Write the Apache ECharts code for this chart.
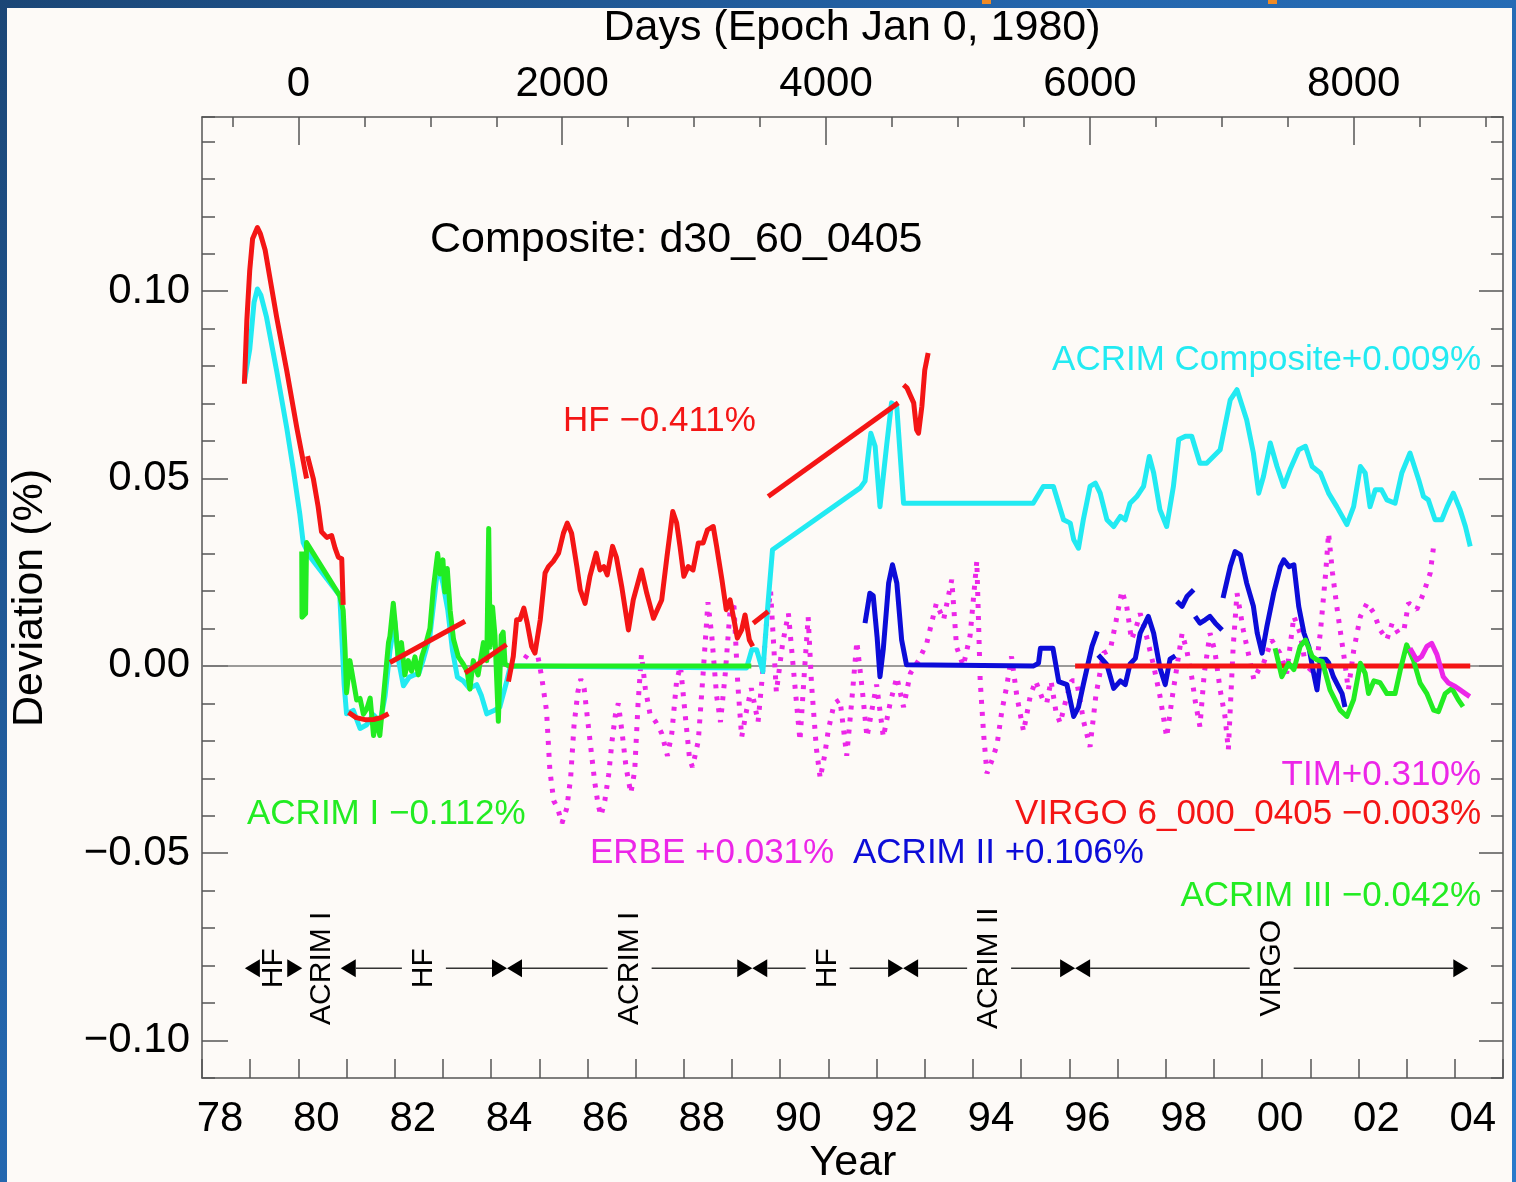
<!DOCTYPE html>
<html>
<head>
<meta charset="utf-8">
<script src="https://cdn.jsdelivr.net/npm/echarts@6/dist/echarts.min.js"></script>
<style>
  html, body { margin: 0; padding: 0; width: 1516px; height: 1182px; overflow: hidden;
    background: linear-gradient(135deg, #1b4676 0%, #2466ad 40%, #2a7acb 100%); }
  #chart { position: absolute; left: 7px; top: 8px; width: 1505px; height: 1174px; background: #fdfaf7; }
  .tab { position: absolute; top: 0; height: 4px; width: 9px; background: #f08a24; }
</style>
</head>
<body>
<div class="tab" style="left:982px"></div>
<div class="tab" style="left:1268px"></div>
<div id="chart"></div>
<script>
// ---- axis ranges and ticks -------------------------------------------------
const yearMin = 1978, yearMax = 2005;
const dayMin = -730.5, dayMax = 9131.25;          // days since Jan 0, 1980
const devMin = -0.11, devMax = 0.1465;            // deviation (%)
const dayMajorTicks = [0, 2000, 4000, 6000, 8000];
const dayMinorTicks = [-500, 500, 1000, 1500, 2500, 3000, 3500, 4500, 5000, 5500, 6500, 7000, 7500, 8500, 9000];
const devMajorTicks = [-0.10, -0.05, 0.00, 0.05, 0.10];

// ---- series: [year, deviation %] -------------------------------------------
const acrimComposite = [
  [1978.88,0.076],[1978.99,0.0844],[1979.08,0.097],[1979.15,0.1006],[1979.22,0.099],[1979.34,0.093],
  [1979.55,0.0787],[1979.76,0.0634],[1979.90,0.052],[1980.03,0.0405],[1980.10,0.0329],[1980.24,0.0291],
  [1980.86,0.0187],[1980.95,-0.005],[1981.00,-0.0128],[1981.14,-0.0119],[1981.28,-0.0167],[1981.42,-0.0157],
  [1981.55,-0.013],[1981.70,-0.015],[1981.80,-0.008],[1981.90,0.004],[1982.00,0.012],[1982.07,0.002],
  [1982.18,-0.0053],[1982.30,-0.003],[1982.39,-0.0025],[1982.50,-0.002],[1982.60,0.002],[1982.73,0.008],
  [1982.82,0.018],[1982.90,0.027],[1983.00,0.022],[1983.10,0.015],[1983.20,0.004],[1983.30,-0.003],
  [1983.42,-0.004],[1983.55,-0.006],[1983.70,-0.005],[1983.80,-0.008],[1983.91,-0.0128],[1984.05,-0.012],
  [1984.18,-0.011],[1984.32,-0.0043],[1984.40,0.0],[1989.30,-0.0006],[1989.41,0.0043],[1989.51,0.0043],
  [1989.64,-0.0015],[1989.73,0.0141],[1989.84,0.031],[1991.66,0.0475],[1991.76,0.0493],[1991.88,0.0621],
  [1991.97,0.0586],[1992.07,0.0425],[1992.21,0.059],[1992.31,0.0702],[1992.42,0.069],[1992.56,0.0434],
  [1995.25,0.0434],[1995.46,0.0479],[1995.67,0.0479],[1995.88,0.039],[1996.02,0.0381],[1996.09,0.0337],
  [1996.19,0.0314],[1996.29,0.039],[1996.43,0.0479],[1996.54,0.0488],[1996.64,0.0461],[1996.78,0.039],
  [1996.92,0.0372],[1997.06,0.0399],[1997.16,0.039],[1997.26,0.0434],[1997.40,0.0452],[1997.54,0.0479],
  [1997.66,0.0559],[1997.75,0.0515],[1997.88,0.0417],[1998.02,0.0372],[1998.16,0.0479],[1998.27,0.0604],
  [1998.41,0.0613],[1998.54,0.0613],[1998.71,0.0541],[1998.85,0.0541],[1998.99,0.0559],[1999.13,0.0577],
  [1999.34,0.071],[1999.48,0.0737],[1999.68,0.0657],[1999.82,0.0568],[1999.93,0.0461],[2000.03,0.0506],
  [2000.17,0.0595],[2000.31,0.0532],[2000.45,0.0479],[2000.58,0.0524],[2000.76,0.0577],[2000.90,0.0586],
  [2001.04,0.0532],[2001.21,0.0515],[2001.38,0.0461],[2001.55,0.0425],[2001.76,0.0377],[2001.90,0.0425],
  [2002.04,0.0532],[2002.14,0.0515],[2002.24,0.0425],[2002.35,0.047],[2002.48,0.047],[2002.59,0.0443],
  [2002.76,0.0434],[2002.90,0.0515],[2003.07,0.0568],[2003.25,0.0497],[2003.35,0.0452],[2003.45,0.0443],
  [2003.59,0.039],[2003.73,0.039],[2003.84,0.0425],[2003.97,0.0461],[2004.11,0.0417],[2004.22,0.0372],
  [2004.32,0.0319]
];

// HF, drawn as separate pieces
const hfPeak = [
  [1978.88,0.0753],[1978.93,0.092],[1978.99,0.1055],[1979.05,0.114],[1979.15,0.117],[1979.21,0.1154],
  [1979.31,0.111],[1979.55,0.093],[1979.76,0.0787],[1979.97,0.0634],[1980.17,0.050]
];
const hfDecline = [
  [1980.19,0.056],[1980.31,0.050],[1980.41,0.0425],[1980.48,0.0358],[1980.59,0.0343],[1980.69,0.0348],
  [1980.76,0.0315],[1980.83,0.029],[1980.90,0.0286],[1980.93,0.0163]
];
const hfFitArc = [[1981.04,-0.0124],[1981.20,-0.0138],[1981.40,-0.0144],[1981.56,-0.0143],[1981.72,-0.0138],[1981.87,-0.0128]];
const hfFitLine1 = [[1981.90,0.0009],[1983.46,0.0119]];
const hfFitLine2 = [[1983.46,-0.0019],[1984.32,0.0057]];
const hfMain = [
  [1984.36,-0.0042],[1984.46,0.0025],[1984.53,0.0123],[1984.60,0.0124],[1984.68,0.0154],[1984.75,0.0114],
  [1984.84,0.0052],[1984.91,0.0034],[1985.02,0.0123],[1985.12,0.0248],[1985.19,0.0265],[1985.29,0.0279],
  [1985.40,0.0301],[1985.50,0.0354],[1985.58,0.0381],[1985.67,0.0354],[1985.78,0.0265],[1985.85,0.0203],
  [1985.95,0.0167],[1986.05,0.0239],[1986.18,0.0301],[1986.26,0.0256],[1986.34,0.0265],[1986.41,0.0243],
  [1986.52,0.0319],[1986.60,0.029],[1986.71,0.0212],[1986.85,0.0096],[1986.95,0.0176],[1987.12,0.0256],
  [1987.23,0.0194],[1987.37,0.0127],[1987.54,0.0176],[1987.65,0.0292],[1987.77,0.0412],[1987.85,0.0382],
  [1987.92,0.0319],[1988.00,0.0239],[1988.09,0.0265],[1988.19,0.0256],[1988.30,0.0328],[1988.40,0.0328],
  [1988.49,0.0363],[1988.61,0.0372],[1988.68,0.0319],[1988.79,0.023],[1988.88,0.015],[1988.96,0.0176],
  [1989.04,0.0123],[1989.11,0.0074],[1989.20,0.0096],[1989.27,0.0136],[1989.36,0.0069],[1989.43,0.0052]
];
const hfBridge = [[1989.44,0.0114],[1989.75,0.0145]];
const hfFitLine3 = [[1989.75,0.0452],[1992.45,0.0702]];
const hfTail = [
  [1992.56,0.075],[1992.63,0.0742],[1992.77,0.0702],[1992.83,0.063],[1992.87,0.0621],[1992.94,0.0693],
  [1993.00,0.079],[1993.07,0.0835]
];

const acrimI = [
  [1980.07,0.0305],[1980.075,0.013],[1980.15,0.014],[1980.17,0.0329],[1980.86,0.0187],[1980.93,0.0148],
  [1980.97,0.004],[1981.00,-0.0072],[1981.07,0.0014],[1981.14,-0.0038],[1981.21,-0.0091],[1981.28,-0.0087],
  [1981.35,-0.0129],[1981.42,-0.0115],[1981.49,-0.0086],[1981.56,-0.0186],[1981.62,-0.014],[1981.69,-0.0186],
  [1981.76,-0.0091],[1981.87,0.0062],[1981.90,0.0079],[1981.97,0.0167],[1982.01,0.0113],[1982.07,0.0024],
  [1982.14,0.0062],[1982.21,-0.0024],[1982.28,0.0014],[1982.35,-0.0014],[1982.42,0.0024],[1982.49,-0.0024],
  [1982.56,0.0024],[1982.63,0.0052],[1982.73,0.010],[1982.80,0.0206],[1982.89,0.030],[1982.94,0.0245],
  [1983.00,0.0283],[1983.04,0.0197],[1983.09,0.026],[1983.15,0.0148],[1983.22,0.0071],[1983.32,0.0024],
  [1983.42,0.0005],[1983.50,-0.0014],[1983.56,-0.0062],[1983.63,0.0014],[1983.73,-0.0024],[1983.84,0.0062],
  [1983.91,0.0014],[1983.95,0.0367],[1983.98,0.005],[1984.03,0.0157],[1984.08,0.0081],[1984.15,-0.0148],
  [1984.21,0.0081],[1984.25,0.009],[1984.29,0.0005],[1984.36,0.0],[1989.40,0.0]
];

const erbe = [
  [1984.70,0.002],[1984.84,0.0045],[1984.95,0.004],[1985.05,-0.003],[1985.15,-0.012],[1985.22,-0.028],
  [1985.30,-0.036],[1985.38,-0.038],[1985.47,-0.042],[1985.57,-0.038],[1985.65,-0.030],[1985.72,-0.016],
  [1985.80,-0.007],[1985.86,-0.0035],[1985.93,-0.006],[1986.00,-0.014],[1986.07,-0.022],[1986.15,-0.031],
  [1986.22,-0.037],[1986.28,-0.040],[1986.36,-0.036],[1986.44,-0.029],[1986.51,-0.020],[1986.58,-0.013],
  [1986.64,-0.010],[1986.72,-0.018],[1986.80,-0.027],[1986.90,-0.034],[1986.98,-0.028],[1987.05,-0.010],
  [1987.12,0.003],[1987.20,-0.006],[1987.30,-0.013],[1987.42,-0.015],[1987.54,-0.018],[1987.66,-0.024],
  [1987.75,-0.018],[1987.85,-0.004],[1987.93,0.000],[1988.02,-0.012],[1988.12,-0.025],[1988.18,-0.027],
  [1988.30,-0.020],[1988.40,-0.002],[1988.50,0.017],[1988.58,0.008],[1988.68,-0.008],[1988.76,-0.015],
  [1988.86,-0.002],[1988.96,0.015],[1989.04,0.016],[1989.12,-0.005],[1989.20,-0.019],[1989.30,-0.012],
  [1989.40,-0.006],[1989.54,-0.015],[1989.62,-0.004],[1989.72,0.012],[1989.80,0.020],[1989.92,-0.007],
  [1990.05,0.006],[1990.17,0.014],[1990.31,-0.006],[1990.41,-0.020],[1990.50,-0.002],[1990.58,0.013],
  [1990.65,-0.005],[1990.75,-0.022],[1990.83,-0.030],[1990.92,-0.024],[1991.00,-0.017],[1991.12,-0.010],
  [1991.24,-0.009],[1991.38,-0.024],[1991.48,-0.010],[1991.59,0.0065],[1991.70,-0.006],[1991.80,-0.019],
  [1991.90,-0.012],[1992.00,-0.005],[1992.14,-0.019],[1992.28,-0.010],[1992.42,-0.003],[1992.56,-0.011],
  [1992.70,-0.002],[1992.87,0.0014],[1993.04,0.006],[1993.24,0.0167],[1993.39,0.0123],[1993.56,0.023],
  [1993.66,0.005],[1993.80,0.000],[1993.94,0.008],[1994.08,0.028],[1994.15,-0.004],[1994.22,-0.018],
  [1994.29,-0.0287],[1994.40,-0.025],[1994.50,-0.021],[1994.60,-0.012],[1994.70,-0.0055],[1994.80,0.0025],
  [1994.91,-0.008],[1995.05,-0.0175],[1995.19,-0.008],[1995.30,-0.004],[1995.45,-0.009],[1995.53,-0.010],
  [1995.62,-0.004],[1995.72,-0.012],[1995.81,-0.0153],[1995.95,-0.008],[1996.05,-0.004],[1996.15,-0.004],
  [1996.30,-0.015],[1996.43,-0.0216],[1996.55,-0.008],[1996.71,0.0034],[1996.85,0.0043],[1996.97,0.012],
  [1997.09,0.020],[1997.19,0.016],[1997.29,0.007],[1997.38,0.010],[1997.47,0.014],[1997.60,0.008],
  [1997.75,0.000],[1997.88,-0.008],[1998.02,-0.019],[1998.14,-0.008],[1998.34,0.0087],[1998.44,0.004],
  [1998.54,-0.003],[1998.62,-0.010],[1998.71,-0.0162],[1998.80,-0.002],[1998.92,0.0087],[1999.02,0.004],
  [1999.13,-0.0064],[1999.23,-0.0135],[1999.30,-0.0224],[1999.40,0.005],[1999.48,0.0194],[1999.61,0.0096],
  [1999.72,0.003],[1999.83,-0.0037],[1999.93,-0.001],[2000.03,0.0007],[2000.20,0.0069],[2000.37,0.0034],
  [2000.51,-0.002],[2000.66,0.0132],[2000.79,0.0087],[2000.93,-0.002],[2001.07,0.000],[2001.14,0.0014],
  [2001.21,0.009],[2001.32,0.0248],[2001.38,0.0354],[2001.46,0.025],[2001.55,0.0159],[2001.62,0.0096],
  [2001.72,0.0007],[2001.79,-0.0064],[2001.90,0.004],[2002.04,0.0132],[2002.18,0.0168],[2002.32,0.0141],
  [2002.45,0.0096],[2002.59,0.007],[2002.70,0.0114],[2002.83,0.0087],[2002.95,0.010],[2003.04,0.0168],
  [2003.21,0.015],[2003.35,0.0194],[2003.49,0.0248],[2003.56,0.0319]
];

// ACRIM II, drawn as separate pieces
const acrimII_1 = [
  [1991.76,0.0114],[1991.86,0.0194],[1991.93,0.0187],[1992.01,0.0078],[1992.07,-0.0029],[1992.14,0.0046],
  [1992.25,0.0221],[1992.33,0.027],[1992.42,0.0221],[1992.52,0.0069],[1992.62,0.0003],[1995.26,0.0],
  [1995.36,0.0007],[1995.40,0.0047],[1995.66,0.0047],[1995.78,-0.0042],[1995.95,-0.005],[1996.09,-0.0135],
  [1996.19,-0.011],[1996.29,-0.005],[1996.47,0.0052],[1996.58,0.0092]
];
const acrimII_2 = [
  [1996.60,0.0029],[1996.78,0.0003],[1996.92,-0.006],[1997.06,-0.004],[1997.16,-0.005],[1997.26,0.0005],
  [1997.37,0.002],[1997.47,0.0087],[1997.64,0.0132],[1997.75,0.0087],[1997.88,-0.0005],[1997.99,-0.005],
  [1998.09,0.0018],[1998.20,0.0027]
];
const acrimII_3 = [[1998.23,0.0172],[1998.34,0.0159],[1998.44,0.0185],[1998.58,0.0203]];
const acrimII_4 = [[1998.61,0.0132],[1998.71,0.0114],[1998.82,0.0123],[1998.92,0.0132],[1999.03,0.0114],[1999.17,0.0096]];
const acrimII_5 = [
  [1999.19,0.0181],[1999.34,0.0265],[1999.44,0.0305],[1999.55,0.0296],[1999.68,0.0221],[1999.82,0.0159],
  [1999.90,0.0087],[2000.00,0.0034],[2000.10,0.0105],[2000.24,0.0194],[2000.38,0.0265],[2000.45,0.0283],
  [2000.56,0.0265],[2000.66,0.027],[2000.76,0.0159],[2000.87,0.0087],[2000.97,0.0051],[2001.07,-0.002],
  [2001.14,-0.0064],[2001.21,0.0018],[2001.32,0.0018],[2001.38,0.0009],[2001.48,-0.0029],[2001.66,-0.0074],
  [2001.72,-0.011]
];

const virgo = [[1996.12,0.0],[2004.32,0.0]];

const acrimIII = [
  [2000.27,0.0047],[2000.41,-0.0029],[2000.55,0.0007],[2000.66,-0.001],[2000.79,0.0052],[2000.90,0.0069],
  [2001.04,0.0025],[2001.14,0.0016],[2001.25,0.0012],[2001.41,-0.0064],[2001.62,-0.0118],[2001.76,-0.0135],
  [2001.90,-0.009],[2002.04,0.0007],[2002.14,-0.002],[2002.21,-0.0074],[2002.32,-0.004],[2002.45,-0.0045],
  [2002.59,-0.0074],[2002.76,-0.0074],[2002.87,-0.001],[2003.00,0.0056],[2003.14,0.0016],[2003.28,-0.0046],
  [2003.42,-0.0074],[2003.56,-0.0118],[2003.66,-0.0122],[2003.80,-0.0074],[2003.94,-0.006],[2004.07,-0.009],
  [2004.17,-0.0109]
];

const tim = [
  [2003.07,0.0047],[2003.21,0.0016],[2003.31,0.0025],[2003.42,0.0052],[2003.52,0.006],[2003.63,0.003],
  [2003.76,-0.0029],[2003.87,-0.0046],[2004.01,-0.0055],[2004.11,-0.0064],[2004.22,-0.0074],[2004.31,-0.0082]
];

// composite source periods along the bottom of the plot
const periodStart  = [1978.89, 1980.08, 1980.88, 1984.33, 1989.42, 1992.55, 1996.12];
const periodEnd    = [1980.08, 1980.88, 1984.33, 1989.42, 1992.55, 1996.12, 2004.28];
const periodName   = ['HF', 'ACRIM I', 'HF', 'ACRIM I', 'HF', 'ACRIM II', 'VIRGO'];
const periodArrows = [true, false, true, true, true, true, true];
const periodLevel  = -0.0807;

// ---- styling ---------------------------------------------------------------
const FONT = '"Liberation Sans", Arial, Helvetica, sans-serif';
const C = { cyan: '#22eaf2', red: '#f41515', green: '#22ec22', blue: '#0c0cd8', magenta: '#ec26e8', frame: '#555555' };
const LW = 5;

function line(name, data, color, z, extra) {
  return Object.assign({
    name, type: 'line', data, xAxisIndex: 0, yAxisIndex: 0,
    symbol: 'none', showSymbol: false, silent: true, animation: false, z,
    lineStyle: { color, width: LW, join: 'round', cap: 'butt' }
  }, extra || {});
}

function fmtDev(v) {
  const s = Math.abs(v).toFixed(2);
  return (v < -1e-9 ? '\u2212' : '') + s;
}

function renderPeriod(params, api) {
  const i = api.value(3);
  const p0 = api.coord([api.value(0), api.value(2)]);
  const p1 = api.coord([api.value(1), api.value(2)]);
  const y = p0[1], mid = (p0[0] + p1[0]) / 2;
  const AL = 15, AH = 9, GAP = 22;
  const children = [];
  if (periodArrows[i]) {
    children.push({ type: 'polygon', shape: { points: [[p0[0], y], [p0[0] + AL, y - AH], [p0[0] + AL, y + AH]] }, style: { fill: '#000' } });
    children.push({ type: 'polygon', shape: { points: [[p1[0], y], [p1[0] - AL, y - AH], [p1[0] - AL, y + AH]] }, style: { fill: '#000' } });
    const a = p0[0] + AL, b = p1[0] - AL;
    if (mid - GAP > a) children.push({ type: 'line', shape: { x1: a, y1: y, x2: mid - GAP, y2: y }, style: { stroke: '#333', lineWidth: 1.6 } });
    if (b > mid + GAP) children.push({ type: 'line', shape: { x1: mid + GAP, y1: y, x2: b, y2: y }, style: { stroke: '#333', lineWidth: 1.6 } });
  }
  children.push({
    type: 'text', x: mid, y: y, rotation: Math.PI / 2,
    style: { text: periodName[i], font: '30px ' + FONT, fill: '#000',
      align: 'center', verticalAlign: 'middle', textAlign: 'center', textVerticalAlign: 'middle' }
  });
  return { type: 'group', children };
}

function label(text, x, y, color, size, align, rot) {
  return {
    type: 'text', x, y, rotation: rot || 0, silent: true, z: 50,
    style: { text, fill: color, font: size + 'px ' + FONT,
      align: align, verticalAlign: 'middle', textAlign: align, textVerticalAlign: 'middle' }
  };
}

const chart = echarts.init(document.getElementById('chart'), null, { renderer: 'canvas' });

const tickStyle = { color: C.frame, width: 1.5 };
const frameLine = { show: true, onZero: false, lineStyle: tickStyle };
const noLine = { show: false, onZero: false };
const labelFont = { fontFamily: FONT, fontSize: 42, color: '#000' };

chart.setOption({
  animation: false,
  backgroundColor: '#fdfaf7',
  grid: { left: 195, top: 109, right: 9, bottom: 104 },
  xAxis: [
    { type: 'value', position: 'bottom', min: yearMin, max: yearMax, interval: 1,
      axisLine: frameLine,
      axisTick: { show: true, inside: true, length: 19, lineStyle: tickStyle },
      axisLabel: Object.assign({ margin: 20, align: 'center', padding: [0, 0, 0, 36],
        formatter: v => (v % 2 === 0 ? String(v % 100).padStart(2, '0') : '') }, labelFont),
      splitLine: { show: false } },
    { type: 'value', position: 'top', min: dayMin, max: dayMax,
      axisLine: frameLine,
      axisTick: { show: true, inside: true, length: 28, lineStyle: tickStyle, customValues: dayMajorTicks },
      axisLabel: Object.assign({ margin: 12, customValues: dayMajorTicks, formatter: v => String(v) }, labelFont),
      splitLine: { show: false } },
    { type: 'value', position: 'top', min: dayMin, max: dayMax,
      axisLine: noLine,
      axisTick: { show: true, inside: true, length: 10, lineStyle: tickStyle, customValues: dayMinorTicks },
      axisLabel: { show: false }, splitLine: { show: false } }
  ],
  yAxis: [
    { type: 'value', position: 'left', min: devMin, max: devMax, interval: 0.01,
      axisLine: frameLine,
      axisTick: { show: true, inside: true, length: 13, lineStyle: tickStyle },
      axisLabel: { show: false }, splitLine: { show: false } },
    { type: 'value', position: 'left', min: devMin, max: devMax,
      axisLine: noLine,
      axisTick: { show: true, inside: true, length: 26, lineStyle: tickStyle, customValues: devMajorTicks },
      axisLabel: Object.assign({ margin: 12, customValues: devMajorTicks, formatter: fmtDev }, labelFont),
      splitLine: { show: false } },
    { type: 'value', position: 'right', min: devMin, max: devMax, interval: 0.01,
      axisLine: frameLine,
      axisTick: { show: true, inside: true, length: 12, lineStyle: tickStyle },
      axisLabel: { show: false }, splitLine: { show: false } },
    { type: 'value', position: 'right', min: devMin, max: devMax,
      axisLine: noLine,
      axisTick: { show: true, inside: true, length: 24, lineStyle: tickStyle, customValues: devMajorTicks },
      axisLabel: { show: false }, splitLine: { show: false } }
  ],
  series: [
    line('zero', [[yearMin, 0], [yearMax, 0]], '#7a7a7a', 1, { lineStyle: { color: '#7a7a7a', width: 1.5 } }),
    line('ERBE', erbe, C.magenta, 2, { lineStyle: { color: C.magenta, width: LW, type: [4, 8], cap: 'butt' } }),
    line('ACRIM Composite', acrimComposite, C.cyan, 3),
    line('ACRIM I', acrimI, C.green, 4),
    line('ACRIM II', acrimII_1, C.blue, 5),
    line('ACRIM II', acrimII_2, C.blue, 5),
    line('ACRIM II', acrimII_3, C.blue, 5),
    line('ACRIM II', acrimII_4, C.blue, 5),
    line('ACRIM II', acrimII_5, C.blue, 5),
    line('HF', hfPeak, C.red, 6),
    line('HF', hfDecline, C.red, 6),
    line('HF', hfFitArc, C.red, 6),
    line('HF', hfFitLine1, C.red, 6),
    line('HF', hfFitLine2, C.red, 6),
    line('HF', hfMain, C.red, 6),
    line('HF', hfBridge, C.red, 6),
    line('HF', hfFitLine3, C.red, 6),
    line('HF', hfTail, C.red, 6),
    line('VIRGO', virgo, C.red, 7),
    line('ACRIM III', acrimIII, C.green, 8),
    line('TIM', tim, C.magenta, 9),
    { type: 'custom', name: 'periods', xAxisIndex: 0, yAxisIndex: 0, silent: true, z: 10,
      renderItem: renderPeriod, encode: { x: [0, 1], y: 2 },
      data: periodName.map((n, i) => [periodStart[i], periodEnd[i], periodLevel, i]) }
  ],
  graphic: [
    label('Days (Epoch Jan 0, 1980)', 845, 20, '#000', 43, 'center'),
    label('Year', 846, 1155, '#000', 43, 'center'),
    label('Deviation (%)', 23, 590, '#000', 43, 'center', Math.PI / 2),
    label('Composite: d30_60_0405', 423, 232, '#000', 43, 'left'),
    label('HF \u22120.411%', 556, 413, C.red, 35, 'left'),
    label('ACRIM Composite+0.009%', 1474, 352, C.cyan, 35, 'right'),
    label('TIM+0.310%', 1474, 767, C.magenta, 35, 'right'),
    label('VIRGO 6_000_0405 \u22120.003%', 1474, 806, C.red, 35, 'right'),
    label('ACRIM I \u22120.112%', 240, 806, C.green, 35, 'left'),
    label('ERBE +0.031%', 583, 845, C.magenta, 35, 'left'),
    label('ACRIM II +0.106%', 846, 845, C.blue, 35, 'left'),
    label('ACRIM III \u22120.042%', 1474, 888, C.green, 35, 'right')
  ]
});
</script>
</body>
</html>
